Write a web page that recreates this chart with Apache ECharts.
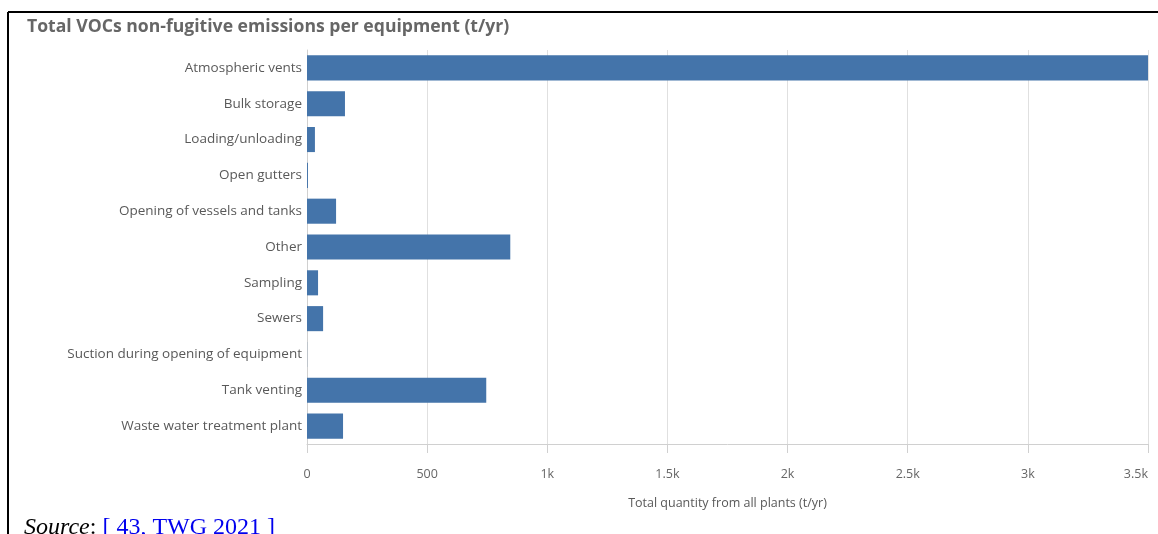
<!DOCTYPE html>
<html>
<head>
<meta charset="utf-8">
<script src="https://cdn.jsdelivr.net/npm/echarts@6/dist/echarts.min.js"></script>
<style>html,body{margin:0;padding:0;background:#fff;overflow:hidden;}#c{width:1158px;height:534px;}</style>
</head>
<body>
<div id="c"></div>
<script>
const categories = ["Atmospheric vents","Bulk storage","Loading/unloading","Open gutters","Opening of vessels and tanks","Other","Sampling","Sewers","Suction during opening of equipment","Tank venting","Waste water treatment plant"];
const values = [3500, 158, 33, 4, 121, 846, 46, 67, 0.5, 746, 150];
const xTicks = {0:"0",500:"500",1000:"1k",1500:"1.5k",2000:"2k",2500:"2.5k",3000:"3k",3500:"3.5k"};

const chart = echarts.init(document.getElementById('c'), null, {renderer:'canvas'});
chart.setOption({
  animation:false,
  backgroundColor:'#fff',
  title:{text:'Total VOCs non-fugitive emissions per equipment (t/yr)',left:22,top:13,
    textStyle:{fontFamily:'Open Sans',fontWeight:'bold',fontSize:17.6,color:'#666'}},
  grid:{left:307,right:10,top:50,bottom:90,containLabel:false,outerBoundsMode:'none'},
  xAxis:{type:'value',min:0,max:3500,interval:500,
    name:'Total quantity from all plants (t/yr)',nameLocation:'middle',nameGap:53,
    nameTextStyle:{fontFamily:'Open Sans',fontSize:12.5,color:'#595959'},
    axisLine:{show:true,lineStyle:{color:'#d0d0d0'}},
    axisTick:{show:true,length:9,lineStyle:{color:'#d0d0d0'}},
    axisLabel:{margin:24,fontFamily:'Open Sans',fontSize:12.5,color:'#666',alignMaxLabel:'right',formatter:v=>xTicks[v]},
    splitLine:{show:true,lineStyle:{color:'#e0e0e0'}}},
  yAxis:{type:'category',data:categories,inverse:true,
    axisLine:{show:true,lineStyle:{color:'#d0d0d0'}},
    axisTick:{show:false},
    axisLabel:{margin:5,fontFamily:'Open Sans',fontSize:13.5,color:'#595959'}},
  series:[{type:'bar',data:values,barWidth:'70%',itemStyle:{color:'#4474aa'}}],
  graphic:[
    {type:'line',shape:{x1:8,y1:12,x2:1158,y2:12},style:{stroke:'#000',lineWidth:2}},
    {type:'line',shape:{x1:8,y1:12,x2:8,y2:534},style:{stroke:'#000',lineWidth:2}},
    {type:'text',left:24,top:516,style:{
      text:'{i|Source}{n|: }{b|[ 43, TWG 2021 ]}',
      rich:{
        i:{fontFamily:'Liberation Serif',fontStyle:'italic',fontSize:24,fill:'#000'},
        n:{fontFamily:'Liberation Serif',fontSize:24,fill:'#000'},
        b:{fontFamily:'Liberation Serif',fontSize:24,fill:'#0000ee'}
      }}}
  ]
});
</script>
</body>
</html>
